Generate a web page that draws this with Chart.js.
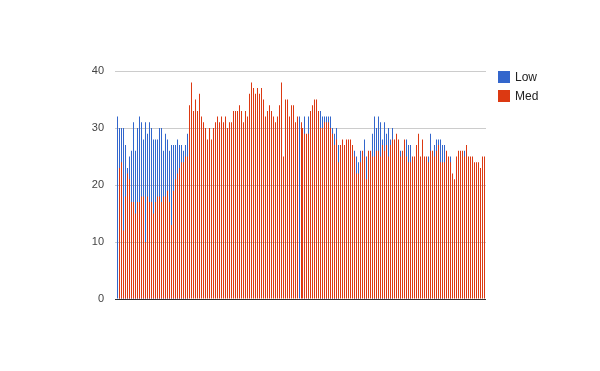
<!DOCTYPE html>
<html lang="en">
<head>
    <meta charset="UTF-8">
    <title>Low / Med</title>
    <script src="https://cdn.jsdelivr.net/npm/chart.js"></script>
    <style>
        body {
            margin: 0;
            background: #ffffff;
            font-family: Arial, "Liberation Sans", sans-serif;
        }

        .wrap {
            position: relative;
            width: 600px;
            height: 371px;
        }

        .legend {
            position: absolute;
            left: 498px;
            top: 71px;
            font-size: 12px;
            color: #222;
        }

        .legend div {
            height: 12px;
            line-height: 12px;
            margin-bottom: 7px;
            white-space: nowrap;
        }

        .legend span {
            display: inline-block;
            width: 12px;
            height: 12px;
            margin-right: 5px;
            vertical-align: top;
        }
    </style>
</head>
<body>
    <div class="wrap">
        <canvas id="chart" width="600" height="371"></canvas>
        <div class="legend">
            <div><span style="background:#3366cc"></span>Low</div>
            <div><span style="background:#dc3912"></span>Med</div>
        </div>
    </div>

    <script>
        // wartości, od lewej do prawej
        const lowValues = [
            32, 30, 30, 30, 27, 23, 25, 26, 31, 26, 30, 32, 31, 28, 31, 29, 31, 30, 28, 28,
            28, 30, 30, 26, 29, 28, 26, 27, 27, 27, 28, 27, 27, 26, 27, 29,
            null, null, null, null, null, null, null, null, null, null,
            null, null, null, null, null, null, null, null, null, null, null, null, null, null, null,
            null, null, null, null, null, null, null, null, null, null, null, null, null, null, null,
            null, null, null, null, null, null, null, null, null, null, null, null, null, null, null,
            32,
            null, null, 32, null, 32, null, null, null, null, null, 33, 32, 32, 32, 32, 32, 30, 29, 30,
            27, null, null, null, null, null, null, null, 26, 25, 24, 26, null, 28, 25, null, null, 29,
            32, 30, 32, 31, 28, 31, 29, 30, 28,
            30, null, null, null, 26, null, null, 28, 27, 27, null, null, null, null, null, null, null,
            null, 25, 29, null, 27, 28, 28, 28, 27, 27, null, null, 25, null, null, null, null, null,
            null, 26, null, null, null, null, null, null, null, null, null, null, 25
        ];

        const medValues = [
            0, 23, 24, 12, 18, 22, 21, 17, 17, 15, 17, 17, 18, 18, 10, 18, 17, 17, 15, 17,
            18, 18, 17, 18, 18, 19, 17, 13, 19, 21, 22, 23, 24, 24, 25, 25, 34, 38, 33, 35,
            33, 36, 32, 31, 30, 28,
            30, 28, 30, 31, 32, 31, 32, 31, 32, 30, 31, 31, 33, 33, 33, 34, 33, 31, 33, 32,
            36, 38, 37, 36, 37, 36, 37, 35, 32, 33, 34, 33, 32, 31, 32, 34, 38, 25, 35, 35,
            32, 34, 34, 31, 32,
            null,
            31, 30, 29, 29, 29, 33, 34, 35, 35, 33, 30, 30, 31, 31, 31, 30, 29, 27, 28, 24,
            27, 28, 27, 28, 28, 28, 27, 25, 22, 22, 24, 26, 25, 21, 26, 26, 25, 25, 26, 26,
            25, 27, 26, 27, 25, 27,
            28, 28, 29, 28, 25, 26, 28, 25, 24, 24, 25, 25, 27, 29, 25, 28, 25, 25, 24, 26,
            26, 25, 26, 27, 24, 24, 24, 26, 25, 24, 22, 21, 25, 26, 26, 26, 25, 27, 25, 25,
            25, 24, 24, 24, 23, 25, 25, null
        ];

        const yTicks = [0, 10, 20, 30, 40];
        const categories = medValues.map((_, i) => String(i + 1));

        // słupki mają 1px, więc przyciągamy je do pełnych pikseli (prawa połowa pasma)
        const snapBars = {
            id: 'snapBars',
            afterDatasetsUpdate(chart) {
                chart.data.datasets.forEach((ds, i) => {
                    chart.getDatasetMeta(i).data.forEach(bar => {
                        bar.x = Math.round(bar.x) + 1.5;
                    });
                });
            }
        };

        const ctx = document.getElementById('chart').getContext('2d');
        new Chart(ctx, {
            type: 'bar',
            data: {
                labels: categories,
                datasets: [
                    {
                        label: 'Low',
                        data: lowValues,
                        backgroundColor: '#3366cc',
                        barThickness: 1,
                        inflateAmount: 0,
                        order: 1
                    },
                    {
                        label: 'Med',
                        data: medValues,
                        backgroundColor: '#dc3912',
                        barThickness: 1,
                        inflateAmount: 0,
                        order: 0
                    }
                ]
            },
            options: {
                responsive: false,
                animation: false,
                layout: {
                    padding: { left: 0, right: 114, top: 71, bottom: 72 }
                },
                scales: {
                    x: {
                        display: false,
                        stacked: true
                    },
                    y: {
                        stacked: false,
                        min: 0,
                        max: 40,
                        afterFit: (scale) => { scale.width = 115; },
                        afterBuildTicks: (scale) => {
                            scale.ticks = yTicks.map(v => ({ value: v }));
                        },
                        border: { display: false },
                        grid: {
                            drawTicks: false,
                            color: (c) => c.tick && c.tick.value === 0 ? '#333333' : '#cccccc'
                        },
                        ticks: {
                            padding: 11,
                            color: '#444',
                            font: { family: 'Arial', size: 11 }
                        }
                    }
                },
                plugins: {
                    legend: { display: false },
                    tooltip: { enabled: false }
                }
            },
            plugins: [snapBars]
        });
    </script>
</body>
</html>
